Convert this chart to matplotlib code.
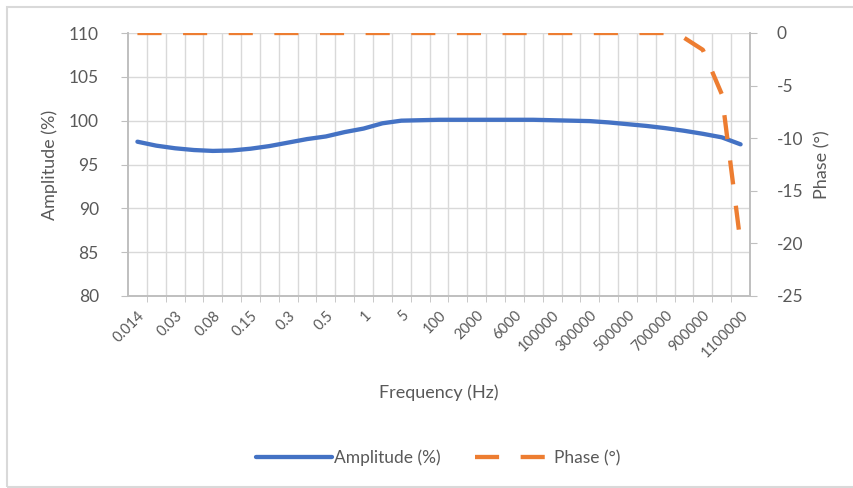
import numpy as np
import matplotlib
matplotlib.use('Agg')
import matplotlib.pyplot as plt
from matplotlib.patches import Rectangle

plt.rcParams['font.family'] = ['Lato', 'DejaVu Sans']
plt.rcParams['axes.unicode_minus'] = False

# 频率类别（Excel 类别轴，隔一个显示标签）
freq_labels = ["0.014", "0.02", "0.03", "0.05", "0.08", "0.1", "0.15", "0.2", "0.3", "0.4",
               "0.5", "0.8", "1", "2", "5", "10", "100", "1000", "2000", "4000",
               "6000", "10000", "100000", "200000", "300000", "400000", "500000", "600000",
               "700000", "800000", "900000", "1000000", "1100000"]

amplitude = [97.6, 97.15, 96.85, 96.65, 96.55, 96.6, 96.8, 97.1, 97.5, 97.9,
             98.2, 98.7, 99.1, 99.7, 100.0, 100.05, 100.1, 100.1, 100.1, 100.1,
             100.1, 100.1, 100.05, 100.0, 99.95, 99.8, 99.6, 99.4, 99.15, 98.85,
             98.5, 98.1, 97.3]

phase = [0, 0, 0, 0, 0, 0, 0, 0, 0, 0,
         0, 0, 0, 0, 0, 0, 0, 0, 0, 0,
         0, 0, 0, 0, 0, 0, 0, 0, 0, -0.45,
         -1.6, -5.8, -20.0]

amp_ticks = [80, 85, 90, 95, 100, 105, 110]
phase_ticks = [-25, -20, -15, -10, -5, 0]

BLUE = '#4472C4'
ORANGE = '#ED7D31'
GRID = '#D9D9D9'
TXT = '#595959'

fig = plt.figure(figsize=(8.54, 4.88), dpi=100)
ax = fig.add_axes([128 / 854, 1 - 296 / 488, 622 / 854, 263 / 488])
ax2 = ax.twinx()

x = np.arange(len(freq_labels))
l1, = ax.plot(x, amplitude, color=BLUE, lw=3.1, solid_capstyle='round',
              solid_joinstyle='round', label='Amplitude (%)', zorder=3)
l2, = ax2.plot(x, phase, color=ORANGE, lw=3.1, dashes=(5.6, 5.0), dash_capstyle='butt',
               label='Phase (°)', zorder=3)

# x 轴
ax.set_xlim(-0.5, len(freq_labels) - 0.5)
ax.set_xticks(x[::2])
ax.set_xticklabels(freq_labels[::2], rotation=45, ha='right', va='top',
                   rotation_mode='anchor')
ax.set_xticks(np.arange(0.5, len(freq_labels) - 1, 1), minor=True)
ax.tick_params(axis='x', which='major', length=0, pad=9, labelsize=10.5, labelcolor=TXT)
ax.tick_params(axis='x', which='minor', length=4, color='#BFBFBF')
ax.grid(which='minor', axis='x', color=GRID, lw=1)

# y 轴
ax.set_ylim(80, 110)
ax.set_yticks(amp_ticks)
ax2.set_ylim(-25, 0)
ax2.set_yticks(phase_ticks)
ax.grid(which='major', axis='y', color=GRID, lw=1)
ax.set_axisbelow(True)
ax.tick_params(axis='y', length=5, color='#BFBFBF', pad=16, labelsize=12.5, labelcolor=TXT)
ax2.tick_params(axis='y', length=5, color='#BFBFBF', pad=14, labelsize=12.5, labelcolor=TXT)

for a in (ax, ax2):
    a.spines['top'].set_visible(False)
    for s in ('left', 'right', 'bottom'):
        a.spines[s].set_color('#BFBFBF')
        a.spines[s].set_linewidth(1.2)

ax.set_ylabel('Amplitude (%)', fontsize=13, color=TXT, labelpad=8)
ax2.set_ylabel('Phase (°)', fontsize=13, color=TXT, labelpad=8)
ax.set_xlabel('Frequency (Hz)', fontsize=13, color=TXT, labelpad=17)

fig.legend(handles=[l1, l2], loc='center', bbox_to_anchor=(438 / 854, 1 - 458 / 488),
           ncol=2, frameon=False, fontsize=12.5, handlelength=4.4, handletextpad=0.1,
           columnspacing=2.0, labelcolor=TXT)

# 图表外框
fig.patches.append(Rectangle((7 / 854, 1 / 488), 1.2, 480 / 488, transform=fig.transFigure,
                             fill=False, edgecolor='#D9D9D9', lw=1.5, clip_on=False))

fig.savefig('out.png', dpi=100)
